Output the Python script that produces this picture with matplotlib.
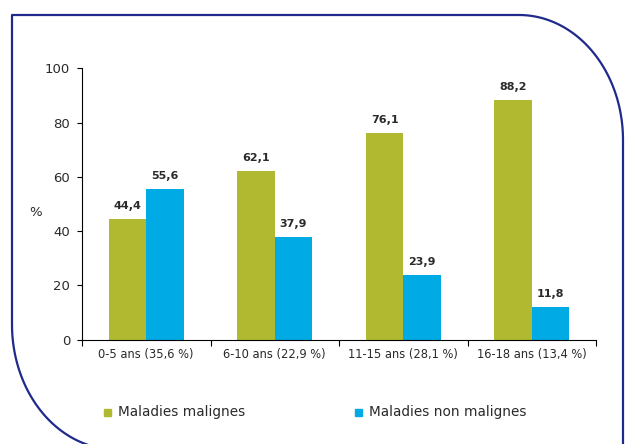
import numpy as np
import matplotlib
matplotlib.use("Agg")
import matplotlib.pyplot as plt
from matplotlib.patches import Rectangle
from matplotlib.lines import Line2D

# data
categories = ["0-5 ans (35,6 %)", "6-10 ans (22,9 %)", "11-15 ans (28,1 %)", "16-18 ans (13,4 %)"]
malignes = [44.4, 62.1, 76.1, 88.2]
non_malignes = [55.6, 37.9, 23.9, 11.8]
series_names = ["Maladies malignes", "Maladies non malignes"]
yticks = [0, 20, 40, 60, 80, 100]

green = "#b0b930"
blue = "#00aae4"
navy = "#1f2a8c"
txt = "#2a2a2a"

W, H = 625, 444
fig = plt.figure(figsize=(W / 100, H / 100), dpi=100)
ax = fig.add_axes([82 / W, 1 - 339.5 / H, (596 - 82) / W, (339.5 - 68.3) / H])

x = np.arange(len(categories))
bw = 0.29
b1 = ax.bar(x - bw / 2, malignes, bw, color=green)
b2 = ax.bar(x + bw / 2, non_malignes, bw, color=blue)

for bars, vals in ((b1, malignes), (b2, non_malignes)):
    for r, v in zip(bars, vals):
        ax.text(r.get_x() + r.get_width() / 2, v + 3.0, f"{v:.1f}".replace(".", ","),
                ha="center", va="bottom", fontsize=8, fontweight="bold", color=txt)

ax.set_xlim(-0.5, len(categories) - 0.5)
ax.set_ylim(0, 100)
ax.set_yticks(yticks)
ax.tick_params(axis="y", length=3.6, width=0.8, pad=5, labelsize=9.5, labelcolor=txt)

# x: boundary ticks + centred labels
ax.set_xticks(np.arange(len(categories) + 1) - 0.5)
ax.set_xticklabels([])
ax.set_xticks(x, minor=True)
ax.set_xticklabels(categories, minor=True)
ax.tick_params(axis="x", which="major", length=4, width=0.8, direction="out")
ax.tick_params(axis="x", which="minor", length=0, pad=6, labelsize=8.3, labelcolor=txt)

for s in ("top", "right"):
    ax.spines[s].set_visible(False)
for s in ("left", "bottom"):
    ax.spines[s].set_linewidth(0.8)

fig.text(36 / W, 1 - 212 / H, "%", ha="center", va="center", fontsize=9.5, color=txt)

# legend
leg_x = [104, 355]
for name, col, lx in zip(series_names, [green, blue], leg_x):
    fig.add_artist(Rectangle((lx / W, 1 - 415.5 / H), 7 / W, 7 / H, color=col,
                             transform=fig.transFigure))
    fig.text((lx + 14) / W, 1 - 412 / H, name, ha="left", va="center",
             fontsize=9.8, color=txt)

# rounded frame
left, top, right = 12, 15, 623
rx, ry = 104, 125
t = np.linspace(0, np.pi / 2, 60)
# top-right corner arc
cx1, cy1 = right - rx, top + ry
arc1_x = cx1 + rx * np.sin(t)
arc1_y = cy1 - ry * np.cos(t)
# bottom-left arc
cx2, cy2 = left + rx, 324.5
arc2_x = cx2 - rx * np.cos(t)
arc2_y = cy2 + ry * np.sin(t)
px = np.concatenate([[right], [right], arc1_x[::-1], [left, left], arc2_x])
py = np.concatenate([[H + 5], [cy1], arc1_y[::-1], [top, cy2], arc2_y])
fig.add_artist(Line2D(px / W, 1 - py / H, color=navy, lw=1.6,
                      transform=fig.transFigure, solid_joinstyle="round"))

fig.savefig("out.png", dpi=100)
